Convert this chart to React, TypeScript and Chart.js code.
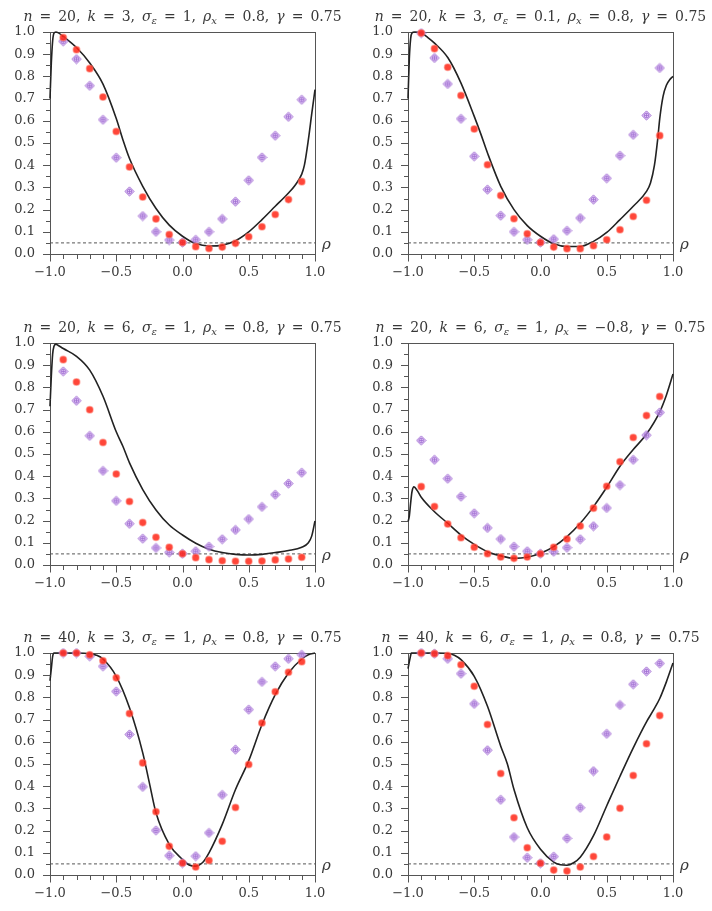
import { useEffect, useRef } from "react";
import { Chart, registerables } from "chart.js";

Chart.register(...registerables);

// Correlation grid for the simulated rejection rates
const RHO = [-0.9, -0.8, -0.7, -0.6, -0.5, -0.4, -0.3, -0.2, -0.1, 0, 0.1, 0.2, 0.3, 0.4, 0.5, 0.6, 0.7, 0.8, 0.9];

// Nominal size
const SIZE_LEVEL = 0.05;

// Axis ticks
const X_MAJOR = [-1.0, -0.5, 0.0, 0.5, 1.0];
const Y_MAJOR = [0.0, 0.1, 0.2, 0.3, 0.4, 0.5, 0.6, 0.7, 0.8, 0.9, 1.0];

// Panel titles ($..$ italic, _c italic subscript)
const TITLE_1 = "$n$ = 20, $k$ = 3, $σ$_ε = 1, $ρ$_x = 0.8, $γ$ = 0.75";
const TITLE_2 = "$n$ = 20, $k$ = 3, $σ$_ε = 0.1, $ρ$_x = 0.8, $γ$ = 0.75";
const TITLE_3 = "$n$ = 20, $k$ = 6, $σ$_ε = 1, $ρ$_x = 0.8, $γ$ = 0.75";
const TITLE_4 = "$n$ = 20, $k$ = 6, $σ$_ε = 1, $ρ$_x = −0.8, $γ$ = 0.75";
const TITLE_5 = "$n$ = 40, $k$ = 3, $σ$_ε = 1, $ρ$_x = 0.8, $γ$ = 0.75";
const TITLE_6 = "$n$ = 40, $k$ = 6, $σ$_ε = 1, $ρ$_x = 0.8, $γ$ = 0.75";

// Panel 1
const P1_RED = [0.975, 0.92, 0.835, 0.707, 0.552, 0.392, 0.257, 0.158, 0.088, 0.052, 0.033, 0.025, 0.031, 0.048, 0.078, 0.123, 0.178, 0.245, 0.326];
const P1_PURPLE = [0.958, 0.878, 0.758, 0.605, 0.434, 0.282, 0.171, 0.1, 0.063, 0.052, 0.064, 0.1, 0.158, 0.236, 0.332, 0.435, 0.533, 0.618, 0.695];
const P1_CURVE_X = [-1, -0.99, -0.98, -0.97, -0.955, -0.94, -0.9, -0.8, -0.7, -0.6, -0.5, -0.45, -0.4, -0.3, -0.2, -0.1, 0, 0.1, 0.2, 0.3, 0.4, 0.5, 0.6, 0.7, 0.8, 0.85, 0.9, 0.92, 0.95, 0.975, 1.0];
const P1_CURVE_Y = [0.7, 0.86, 0.96, 0.995, 1.0, 0.997, 0.98, 0.93, 0.86, 0.765, 0.61, 0.515, 0.43, 0.305, 0.205, 0.13, 0.08, 0.047, 0.036, 0.04, 0.06, 0.1, 0.155, 0.215, 0.275, 0.31, 0.36, 0.4, 0.515, 0.63, 0.74];

// Panel 2
const P2_RED = [0.995, 0.925, 0.841, 0.714, 0.563, 0.402, 0.263, 0.159, 0.091, 0.052, 0.031, 0.024, 0.024, 0.037, 0.064, 0.109, 0.169, 0.242, 0.533];
const P2_PURPLE = [0.995, 0.883, 0.766, 0.609, 0.44, 0.29, 0.173, 0.1, 0.064, 0.052, 0.067, 0.105, 0.162, 0.245, 0.341, 0.443, 0.537, 0.624, 0.838];
const P2_CURVE_X = [-1, -0.99, -0.98, -0.97, -0.95, -0.9, -0.85, -0.8, -0.7, -0.6, -0.5, -0.45, -0.4, -0.3, -0.2, -0.1, 0, 0.1, 0.2, 0.3, 0.4, 0.5, 0.6, 0.7, 0.8, 0.83, 0.86, 0.885, 0.9, 0.925, 0.95, 0.975, 1.0];
const P2_CURVE_Y = [0.7, 0.88, 0.97, 0.995, 1.0, 0.995, 0.975, 0.95, 0.885, 0.77, 0.62, 0.54, 0.455, 0.305, 0.2, 0.128, 0.08, 0.046, 0.034, 0.034, 0.057, 0.097, 0.155, 0.215, 0.282, 0.32, 0.4, 0.52, 0.61, 0.71, 0.76, 0.785, 0.8];

// Panel 3
const P3_RED = [0.925, 0.824, 0.699, 0.552, 0.41, 0.286, 0.191, 0.125, 0.08, 0.051, 0.033, 0.024, 0.019, 0.017, 0.017, 0.018, 0.023, 0.027, 0.035];
const P3_PURPLE = [0.872, 0.74, 0.582, 0.424, 0.289, 0.186, 0.119, 0.077, 0.057, 0.051, 0.062, 0.083, 0.116, 0.158, 0.207, 0.262, 0.317, 0.367, 0.416];
const P3_CURVE_X = [-1, -0.99, -0.98, -0.97, -0.955, -0.94, -0.9, -0.8, -0.7, -0.6, -0.5, -0.45, -0.4, -0.3, -0.2, -0.1, 0, 0.1, 0.2, 0.3, 0.4, 0.5, 0.6, 0.7, 0.8, 0.9, 0.95, 0.975, 1.0];
const P3_CURVE_Y = [0.715, 0.85, 0.95, 0.985, 0.995, 0.99, 0.975, 0.94, 0.878, 0.76, 0.6, 0.535, 0.46, 0.34, 0.248, 0.18, 0.135, 0.098, 0.071, 0.056, 0.048, 0.045, 0.048, 0.056, 0.065, 0.08, 0.1, 0.13, 0.198];

// Panel 4
const P4_RED = [0.353, 0.263, 0.185, 0.123, 0.08, 0.051, 0.036, 0.03, 0.036, 0.051, 0.08, 0.117, 0.176, 0.256, 0.355, 0.465, 0.574, 0.673, 0.759];
const P4_PURPLE = [0.561, 0.474, 0.389, 0.308, 0.233, 0.167, 0.117, 0.083, 0.062, 0.051, 0.06, 0.078, 0.116, 0.175, 0.257, 0.36, 0.474, 0.585, 0.687];
const P4_CURVE_X = [-1, -0.99, -0.98, -0.97, -0.955, -0.93, -0.9, -0.8, -0.7, -0.6, -0.5, -0.4, -0.3, -0.2, -0.1, 0, 0.1, 0.2, 0.3, 0.4, 0.5, 0.6, 0.7, 0.8, 0.9, 0.95, 1.0];
const P4_CURVE_Y = [0.195, 0.22, 0.28, 0.33, 0.352, 0.335, 0.305, 0.24, 0.188, 0.135, 0.093, 0.06, 0.041, 0.03, 0.035, 0.053, 0.083, 0.128, 0.188, 0.263, 0.35, 0.445, 0.52, 0.59, 0.69, 0.765, 0.86];

// Panel 5
const P5_RED = [1.0, 1.0, 0.992, 0.965, 0.888, 0.727, 0.505, 0.285, 0.129, 0.054, 0.036, 0.065, 0.152, 0.304, 0.498, 0.685, 0.825, 0.913, 0.961];
const P5_PURPLE = [1.0, 1.0, 0.985, 0.94, 0.827, 0.633, 0.397, 0.201, 0.087, 0.054, 0.085, 0.19, 0.361, 0.565, 0.745, 0.87, 0.94, 0.974, 0.992];
const P5_CURVE_X = [-1, -0.99, -0.98, -0.97, -0.9, -0.8, -0.7, -0.65, -0.6, -0.5, -0.4, -0.3, -0.25, -0.2, -0.1, 0, 0.05, 0.1, 0.15, 0.2, 0.3, 0.4, 0.5, 0.6, 0.7, 0.8, 0.9, 0.95, 1.0];
const P5_CURVE_Y = [0.875, 0.93, 0.985, 1.0, 1.0, 1.0, 0.997, 0.99, 0.973, 0.895, 0.753, 0.55, 0.415, 0.28, 0.138, 0.07, 0.045, 0.04, 0.055, 0.1, 0.228, 0.385, 0.515, 0.678, 0.812, 0.91, 0.973, 0.992, 1.0];

// Panel 6
const P6_RED = [1.0, 0.997, 0.988, 0.947, 0.85, 0.678, 0.457, 0.258, 0.123, 0.053, 0.022, 0.018, 0.036, 0.083, 0.171, 0.301, 0.448, 0.591, 0.718];
const P6_PURPLE = [1.0, 0.997, 0.974, 0.907, 0.771, 0.562, 0.339, 0.171, 0.078, 0.053, 0.083, 0.165, 0.303, 0.468, 0.636, 0.766, 0.859, 0.917, 0.953];
const P6_CURVE_X = [-1, -0.99, -0.98, -0.975, -0.9, -0.8, -0.7, -0.65, -0.6, -0.5, -0.4, -0.3, -0.25, -0.2, -0.1, 0, 0.1, 0.15, 0.2, 0.25, 0.3, 0.4, 0.5, 0.6, 0.7, 0.8, 0.85, 0.9, 0.95, 1.0];
const P6_CURVE_Y = [0.93, 0.96, 0.99, 1.0, 1.0, 1.0, 0.998, 0.99, 0.97, 0.895, 0.76, 0.58, 0.5, 0.385, 0.213, 0.116, 0.058, 0.046, 0.044, 0.055, 0.08, 0.177, 0.312, 0.445, 0.573, 0.69, 0.74, 0.795, 0.87, 0.955];

type PanelSpec = {
  title: string;
  red: number[];
  purple: number[];
  curveX: number[];
  curveY: number[];
};

const PANELS: PanelSpec[] = [
  { title: TITLE_1, red: P1_RED, purple: P1_PURPLE, curveX: P1_CURVE_X, curveY: P1_CURVE_Y },
  { title: TITLE_2, red: P2_RED, purple: P2_PURPLE, curveX: P2_CURVE_X, curveY: P2_CURVE_Y },
  { title: TITLE_3, red: P3_RED, purple: P3_PURPLE, curveX: P3_CURVE_X, curveY: P3_CURVE_Y },
  { title: TITLE_4, red: P4_RED, purple: P4_PURPLE, curveX: P4_CURVE_X, curveY: P4_CURVE_Y },
  { title: TITLE_5, red: P5_RED, purple: P5_PURPLE, curveX: P5_CURVE_X, curveY: P5_CURVE_Y },
  { title: TITLE_6, red: P6_RED, purple: P6_PURPLE, curveX: P6_CURVE_X, curveY: P6_CURVE_Y },
];

const FONT = "'DejaVu Serif', serif";
const TEXT_COLOR = "#383838";
const AXIS_COLOR = "#555";

const CANVAS_W = 354;
const CANVAS_H = 290;
const COL_LEFT = [0, 358];
const ROW_TOP = [0, 311, 621];

const near = (v: number, step: number) => Math.abs(v / step - Math.round(v / step)) < 1e-6;
const fmt = (v: number) => {
  const s = (Math.abs(v) < 1e-9 ? 0 : v).toFixed(1);
  return s.replace("-", "\u2212");
};

type Run = { t: string; it?: boolean; sub?: boolean };

function parseWord(w: string): Run[] {
  const runs: Run[] = [];
  let i = 0;
  while (i < w.length) {
    if (w[i] === "$") {
      const j = w.indexOf("$", i + 1);
      runs.push({ t: w.slice(i + 1, j), it: true });
      i = j + 1;
    } else if (w[i] === "_") {
      runs.push({ t: w[i + 1], it: true, sub: true });
      i += 2;
    } else {
      let j = i;
      while (j < w.length && w[j] !== "$" && w[j] !== "_") j++;
      runs.push({ t: w.slice(i, j) });
      i = j;
    }
  }
  return runs;
}

const TITLE_SIZE = 14;
const SUB_SIZE = 10;
const WORD_GAP = 7;

function runFont(r: Run) {
  return `${r.it ? "italic " : ""}${r.sub ? SUB_SIZE : TITLE_SIZE}px ${FONT}`;
}

function drawTitle(ctx: CanvasRenderingContext2D, text: string, cx: number, baseline: number) {
  const words = text.split(" ").map(parseWord);
  let total = 0;
  words.forEach((runs, wi) => {
    runs.forEach((r) => {
      ctx.font = runFont(r);
      total += ctx.measureText(r.t).width;
    });
    if (wi < words.length - 1) total += WORD_GAP;
  });
  let x = cx - total / 2;
  ctx.fillStyle = TEXT_COLOR;
  ctx.textAlign = "left";
  ctx.textBaseline = "alphabetic";
  words.forEach((runs) => {
    runs.forEach((r) => {
      ctx.font = runFont(r);
      ctx.fillText(r.t, x, baseline + (r.sub ? 3 : 0));
      x += ctx.measureText(r.t).width;
    });
    x += WORD_GAP;
  });
}

// Frame, tick marks, title and the rho label
const decorPlugin = {
  id: "decor",
  beforeDatasetsDraw(chart: any) {
    const { ctx, chartArea } = chart;
    const l = Math.round(chartArea.left) + 0.5;
    const r = Math.round(chartArea.right) + 0.5;
    const t = Math.round(chartArea.top) + 0.5;
    const b = Math.round(chartArea.bottom) + 0.5;
    ctx.save();
    ctx.strokeStyle = AXIS_COLOR;
    ctx.lineWidth = 1;
    ctx.strokeRect(l, t, r - l, b - t);
    ctx.restore();
  },
  afterDraw(chart: any, _args: any, opts: any) {
    const { ctx, chartArea, scales } = chart;
    const xs = scales.x;
    const ys = scales.y;
    const l = Math.round(chartArea.left) + 0.5;
    const b = Math.round(chartArea.bottom) + 0.5;
    ctx.save();
    ctx.strokeStyle = AXIS_COLOR;
    ctx.lineWidth = 1;
    ctx.beginPath();
    xs.ticks.forEach((tk: any) => {
      const px = Math.round(xs.getPixelForValue(tk.value)) + 0.5;
      const len = X_MAJOR.some((m) => Math.abs(m - tk.value) < 1e-6) ? 7 : 4.5;
      ctx.moveTo(px, b);
      ctx.lineTo(px, b + len);
    });
    ys.ticks.forEach((tk: any) => {
      const py = Math.round(ys.getPixelForValue(tk.value)) + 0.5;
      const len = Y_MAJOR.some((m) => Math.abs(m - tk.value) < 1e-6) ? 7.5 : 4.5;
      ctx.moveTo(l, py);
      ctx.lineTo(l - len, py);
    });
    ctx.stroke();

    drawTitle(ctx, opts.title, (chartArea.left + chartArea.right) / 2, chartArea.top - 11);

    ctx.font = `italic 15px ${FONT}`;
    ctx.fillStyle = TEXT_COLOR;
    ctx.textAlign = "left";
    ctx.textBaseline = "alphabetic";
    ctx.fillText("ρ", chartArea.right + 7, chartArea.bottom - 5);
    ctx.restore();
  },
};

let diamondImage: HTMLCanvasElement | null = null;
function getDiamond() {
  if (diamondImage) return diamondImage;
  const c = document.createElement("canvas");
  c.width = 11;
  c.height = 11;
  const g = c.getContext("2d")!;
  const m = 5.5;
  const r = 4.6;
  g.beginPath();
  g.moveTo(m, m - r);
  g.lineTo(m + r, m);
  g.lineTo(m, m + r);
  g.lineTo(m - r, m);
  g.closePath();
  g.fillStyle = "rgba(206, 170, 236, 0.6)";
  g.fill();
  g.strokeStyle = "rgba(158, 105, 210, 0.9)";
  g.lineWidth = 1;
  g.stroke();
  g.beginPath();
  g.arc(m, m, 2.3, 0, Math.PI * 2);
  g.moveTo(m - 2.3, m);
  g.lineTo(m + 2.3, m);
  g.moveTo(m, m - 2.3);
  g.lineTo(m, m + 2.3);
  g.strokeStyle = "rgba(158, 105, 210, 0.85)";
  g.lineWidth = 0.9;
  g.stroke();
  diamondImage = c;
  return c;
}

function Panel({ spec, left, top }: { spec: PanelSpec; left: number; top: number }) {
  const ref = useRef<HTMLCanvasElement>(null);
  useEffect(() => {
    if (!ref.current) return;
    const redPts = RHO.map((x, i) => ({ x, y: spec.red[i] }));
    const purplePts = RHO.map((x, i) => ({ x, y: spec.purple[i] }));
    const curvePts = spec.curveX.map((x, i) => ({ x, y: spec.curveY[i] }));
    const chart = new Chart(ref.current, {
      type: "scatter",
      data: {
        datasets: [
          {
            data: redPts,
            order: 0,
            pointRadius: 3.3,
            pointBackgroundColor: "rgba(255, 38, 22, 0.85)",
            pointBorderColor: "rgba(255, 110, 95, 0.5)",
            pointBorderWidth: 1.5,
            clip: false,
          },
          {
            data: purplePts,
            order: 1,
            pointStyle: getDiamond() as any,
            clip: false,
          },
          {
            type: "line",
            data: curvePts,
            order: 2,
            borderColor: "#222",
            borderWidth: 1.6,
            pointRadius: 0,
            cubicInterpolationMode: "monotone",
            fill: false,
            clip: false,
          } as any,
          {
            type: "line",
            data: [
              { x: -1, y: SIZE_LEVEL },
              { x: 1, y: SIZE_LEVEL },
            ],
            order: 3,
            borderColor: "#555",
            borderWidth: 1,
            borderDash: [3, 2.5],
            pointRadius: 0,
            fill: false,
          } as any,
        ],
      },
      options: {
        animation: false,
        responsive: false,
        devicePixelRatio: 1,
        events: [],
        layout: { autoPadding: false, padding: { left: 0, top: 32, right: CANVAS_W - 315, bottom: 0 } },
        plugins: {
          legend: { display: false },
          tooltip: { enabled: false },
          decor: { title: spec.title },
        } as any,
        scales: {
          x: {
            type: "linear",
            min: -1,
            max: 1,
            border: { display: false },
            grid: { display: false, drawTicks: false },
            afterFit: (s: any) => {
              s.height = CANVAS_H - 254;
            },
            ticks: {
              stepSize: 0.1,
              autoSkip: false,
              maxRotation: 0,
              minRotation: 0,
              padding: 11,
              color: TEXT_COLOR,
              font: { family: FONT, size: 13 },
              callback: (v: any) => (near(Number(v), 0.5) ? fmt(Number(v)) : ""),
            },
          },
          y: {
            type: "linear",
            min: 0,
            max: 1,
            border: { display: false },
            grid: { display: false, drawTicks: false },
            afterFit: (s: any) => {
              s.width = 50;
            },
            ticks: {
              stepSize: 0.05,
              autoSkip: false,
              padding: 15,
              color: TEXT_COLOR,
              font: { family: FONT, size: 13 },
              callback: (v: any) => (near(Number(v), 0.1) ? fmt(Number(v)) : ""),
            },
          },
        },
      },
      plugins: [decorPlugin],
    });
    return () => chart.destroy();
  }, [spec]);
  return (
    <canvas
      ref={ref}
      width={CANVAS_W}
      height={CANVAS_H}
      style={{ position: "absolute", left, top, width: CANVAS_W, height: CANVAS_H }}
    />
  );
}

export default function App() {
  return (
    <div
      style={{
        position: "absolute",
        left: 0,
        top: 0,
        width: 712,
        height: 911,
        overflow: "hidden",
        background: "#fff",
      }}
    >
      {PANELS.map((p, i) => (
        <Panel key={i} spec={p} left={COL_LEFT[i % 2]} top={ROW_TOP[Math.floor(i / 2)]} />
      ))}
    </div>
  );
}
